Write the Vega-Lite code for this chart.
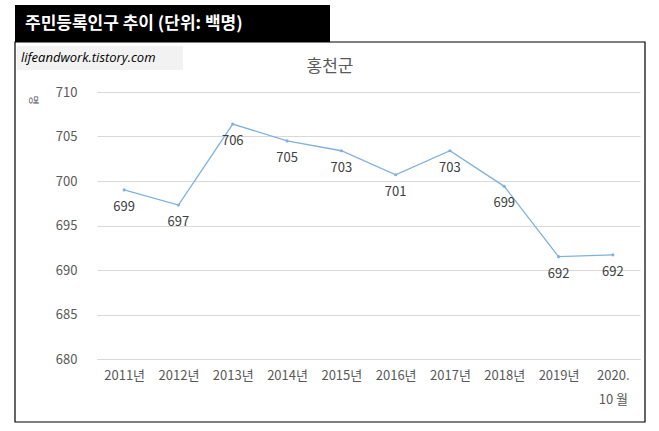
{
  "$schema": "https://vega.github.io/schema/vega-lite/v6.json",
  "background": "white",
  "autosize": "none",
  "padding": {"left": 97, "top": 92, "right": 19, "bottom": 72},
  "width": 543,
  "height": 267,
  "config": {"font": "Noto Sans CJK KR", "view": {"stroke": null}},
  "data": {
    "values": [
      {"year": "2011", "v": 699.0, "label": "699"},
      {"year": "2012", "v": 697.3, "label": "697"},
      {"year": "2013", "v": 706.4, "label": "706"},
      {"year": "2014", "v": 704.5, "label": "705"},
      {"year": "2015", "v": 703.4, "label": "703"},
      {"year": "2016", "v": 700.7, "label": "701"},
      {"year": "2017", "v": 703.4, "label": "703"},
      {"year": "2018", "v": 699.4, "label": "699"},
      {"year": "2019", "v": 691.5, "label": "692"},
      {"year": "2020", "v": 691.7, "label": "692"}
    ]
  },
  "encoding": {
    "x": {
      "field": "year", "type": "ordinal",
      "scale": {"type": "point", "padding": 0.5},
      "axis": {
        "title": null, "labelAngle": 0, "ticks": false, "domainColor": "#d9d9d9",
        "labelColor": "#595959", "labelFontSize": 13, "labelPadding": 10, "labelLineHeight": 24,
        "labelExpr": "datum.value == '2020' ? ['2020.', '10 월'] : datum.value + '년'"
      }
    },
    "y": {
      "field": "v", "type": "quantitative",
      "scale": {"domain": [680, 710], "nice": false},
      "axis": {
        "title": null,
        "values": [680, 685, 690, 695, 700, 705, 710],
        "domain": false, "ticks": false, "gridColor": "#d9d9d9",
        "labelColor": "#595959", "labelFontSize": 13, "labelPadding": 20
      }
    }
  },
  "layer": [
    {"mark": {"type": "line", "color": "#7fb1dd", "strokeWidth": 1.3, "point": {"color": "#7fb1dd", "size": 10}}},
    {"mark": {"type": "text", "dy": 17, "fontSize": 13, "color": "#404040"}, "encoding": {"text": {"field": "label"}}},
    {
      "data": {"values": [{"t": "주민등록인구 추이 (단위: 백명)", "w": "lifeandwork.tistory.com", "h": "홍천군", "u": "명"}]},
      "encoding": {"x": null, "y": null},
      "layer": [
        {"mark": {"type": "rect", "x": -82, "x2": 548, "y": -50, "y2": 330, "fill": null, "stroke": "black", "strokeWidth": 1.2}},
        {"mark": {"type": "rect", "x": -82, "x2": 233, "y": -87, "y2": -50, "fill": "black"}},
        {"mark": {"type": "text", "x": -72, "y": -68, "align": "left", "baseline": "middle", "color": "white", "fontSize": 17, "fontWeight": "bold"}, "encoding": {"text": {"field": "t"}}},
        {"mark": {"type": "rect", "x": -80, "x2": 86, "y": -46, "y2": -22, "fill": "#f2f2f2"}},
        {"mark": {"type": "text", "x": -76, "y": -34, "align": "left", "baseline": "middle", "fontStyle": "italic", "fontSize": 13, "color": "black", "font": "Open Sans"}, "encoding": {"text": {"field": "w"}}},
        {"mark": {"type": "text", "x": 233, "y": -25, "baseline": "middle", "fontSize": 17, "color": "#595959"}, "encoding": {"text": {"field": "h"}}},
        {"mark": {"type": "text", "x": -64, "y": 8, "angle": 90, "baseline": "middle", "fontSize": 10, "color": "#595959"}, "encoding": {"text": {"field": "u"}}}
      ]
    }
  ]
}
